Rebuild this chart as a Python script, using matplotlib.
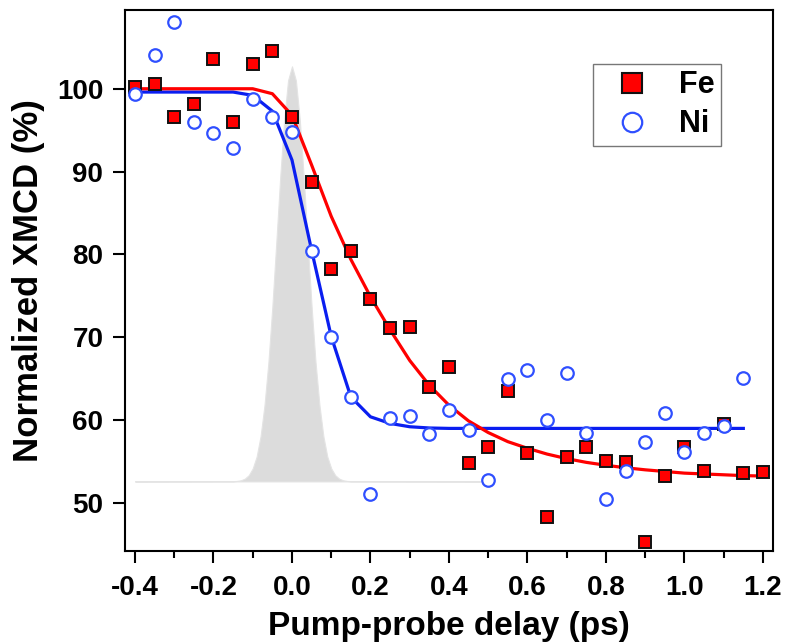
import matplotlib.pyplot as plt
from matplotlib.lines import Line2D
from matplotlib.ticker import MultipleLocator

plt.rcParams['font.family'] = ['Liberation Sans', 'DejaVu Sans']
plt.rcParams['font.weight'] = 'bold'

# measured points (ps, %)
delay_fe = [-0.40, -0.35, -0.30, -0.25, -0.20, -0.15, -0.10, -0.05, 0.00, 0.05,
            0.10, 0.15, 0.20, 0.25, 0.30, 0.35, 0.40, 0.45, 0.50, 0.55,
            0.60, 0.65, 0.70, 0.75, 0.80, 0.85, 0.90, 0.95, 1.00, 1.05,
            1.10, 1.15, 1.20]
fe = [100.2, 100.6, 96.6, 98.2, 103.6, 96.0, 103.0, 104.6, 96.6, 88.7,
      78.2, 80.4, 74.6, 71.1, 71.2, 64.0, 66.4, 54.8, 56.8, 63.5,
      56.0, 48.3, 55.5, 56.8, 55.1, 54.9, 45.3, 53.2, 56.7, 53.9,
      59.5, 53.6, 53.7]

delay_ni = [-0.40, -0.35, -0.30, -0.25, -0.20, -0.15, -0.10, -0.05, 0.00, 0.05,
            0.10, 0.15, 0.20, 0.25, 0.30, 0.35, 0.40, 0.45, 0.50, 0.55,
            0.60, 0.65, 0.70, 0.75, 0.80, 0.85, 0.90, 0.95, 1.00, 1.05,
            1.10, 1.15]
ni = [99.4, 104.1, 108.1, 96.0, 94.6, 92.8, 98.8, 96.6, 94.8, 80.4,
      70.0, 62.8, 51.1, 60.3, 60.5, 58.3, 61.2, 58.8, 52.8, 65.0,
      66.1, 60.0, 65.7, 58.5, 50.5, 53.9, 57.3, 60.9, 56.1, 58.5,
      59.3, 65.1]

# fit curves
fit_t_fe = [-0.40, -0.35, -0.30, -0.25, -0.20, -0.15, -0.10, -0.05, 0.00, 0.05,
            0.10, 0.15, 0.20, 0.25, 0.30, 0.35, 0.40, 0.45, 0.50, 0.55,
            0.60, 0.65, 0.70, 0.75, 0.80, 0.85, 0.90, 0.95, 1.00, 1.05,
            1.10, 1.15, 1.20]
fe_fit = [100.0, 100.0, 100.0, 100.0, 100.0, 100.0, 100.0, 99.4, 96.8, 90.8,
          84.6, 79.4, 74.9, 70.9, 67.2, 64.2, 61.8, 59.9, 58.5, 57.4,
          56.6, 55.9, 55.35, 54.9, 54.55, 54.25, 54.0, 53.8, 53.6, 53.5,
          53.4, 53.3, 53.25]

fit_t_ni = fit_t_fe[:-1]
ni_fit = [99.6, 99.6, 99.6, 99.6, 99.6, 99.6, 99.2, 97.3, 91.4, 80.5,
          70.1, 62.8, 60.4, 59.6, 59.2, 59.05, 59.0, 59.0, 59.0, 59.0,
          59.0, 59.0, 59.0, 59.0, 59.0, 59.0, 59.0, 59.0, 59.0, 59.0,
          59.0, 59.0]

# pump pulse profile (grey)
pulse_t = [-0.40, -0.15, -0.14, -0.13, -0.12, -0.11, -0.10, -0.09, -0.08, -0.07,
           -0.06, -0.05, -0.04, -0.03, -0.02, -0.01, 0.00, 0.01, 0.02, 0.03,
           0.04, 0.05, 0.06, 0.07, 0.08, 0.09, 0.10, 0.11, 0.12, 0.13,
           0.14, 0.15, 0.48]
pulse = [52.6, 52.62, 52.66, 52.74, 52.94, 53.36, 54.17, 55.6, 58.06, 61.8,
         67.0, 73.7, 81.4, 89.3, 96.2, 101.0, 102.7, 101.0, 96.2, 89.3,
         81.4, 73.7, 67.0, 61.8, 58.06, 55.6, 54.17, 53.36, 52.94, 52.74,
         52.66, 52.62, 52.6]
pulse_base = 52.6

fig = plt.figure(figsize=(7.86, 6.44), dpi=100)
ax = fig.add_axes([0.159, 0.1444, 0.8244, 0.840])

ax.fill_between(pulse_t, pulse_base, pulse, facecolor='#dcdcdc',
                edgecolor='#e4e4e4', lw=0.8, zorder=1)
ax.plot(fit_t_ni, ni_fit, color='#0a1ef0', lw=2.3, zorder=2)
ax.plot(fit_t_fe, fe_fit, color='#ff0000', lw=2.3, zorder=3)
ax.plot(delay_fe, fe, 's', ms=8, mfc='#ff0000', mec='#111111', mew=1.4, zorder=4)
ax.plot(delay_ni, ni, 'o', ms=9, mfc='white', mec='#2f4fff', mew=1.6, zorder=5)

ax.set_xlim(-0.4255, 1.2255)
ax.set_ylim(44.2, 109.5)
ax.xaxis.set_major_locator(MultipleLocator(0.2))
ax.xaxis.set_minor_locator(MultipleLocator(0.1))
ax.yaxis.set_major_locator(MultipleLocator(10))
ax.xaxis.set_major_formatter(plt.FuncFormatter(lambda v, p: f'{v:.1f}'))

for s in ax.spines.values():
    s.set_linewidth(1.5)
ax.tick_params(axis='both', which='major', direction='out', length=8.6, width=1.5,
               labelsize=20)
ax.tick_params(axis='x', which='minor', direction='out', length=5, width=1.5)
ax.tick_params(axis='x', which='major', pad=9)
ax.tick_params(axis='y', which='major', pad=7)

ax.set_xlabel('Pump-probe delay (ps)', fontsize=24, fontweight='bold')
ax.set_ylabel('Normalized XMCD (%)', fontsize=25, fontweight='bold')
ax.xaxis.set_label_coords(0.5, -0.11)
ax.yaxis.set_label_coords(-0.123, 0.5)

handles = [
    Line2D([], [], marker='s', ls='none', ms=14, mfc='#ff0000', mec='#111111', mew=1.5),
    Line2D([], [], marker='o', ls='none', ms=14, mfc='white', mec='#2f4fff', mew=1.6),
]
leg = ax.legend(handles, ['Fe', 'Ni'], loc='upper left', bbox_to_anchor=(0.722, 0.900),
                fontsize=22, frameon=True, fancybox=False, borderpad=0.2,
                handlelength=2.16, handletextpad=0.46, labelspacing=0.3,
                borderaxespad=0)
leg.get_frame().set_edgecolor('#555555')
leg.get_frame().set_linewidth(1.0)

fig.savefig('out.png', dpi=100)
